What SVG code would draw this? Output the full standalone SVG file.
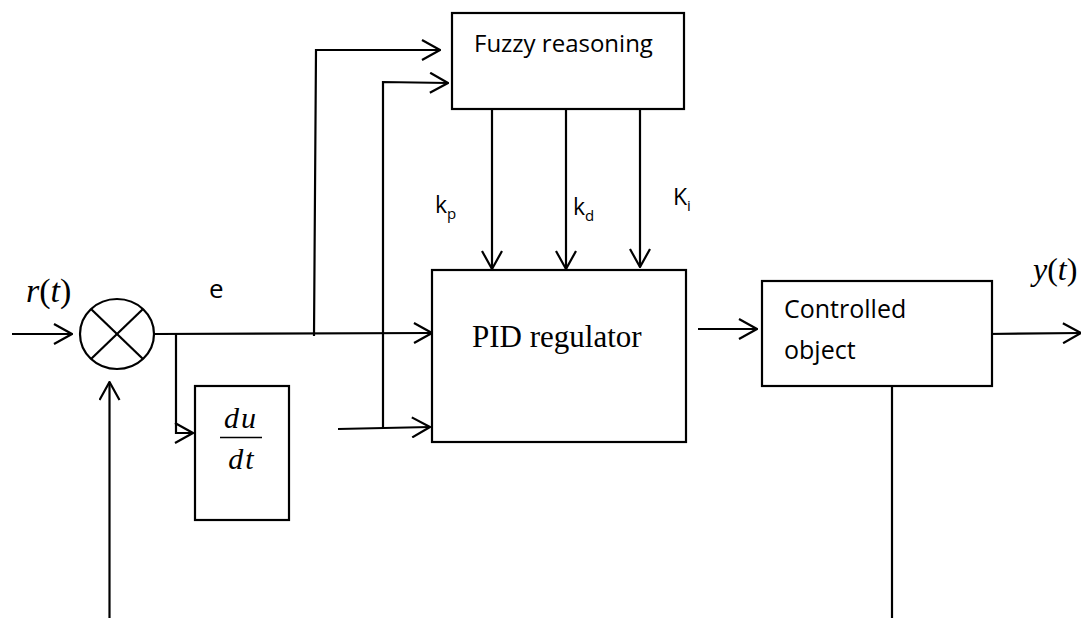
<svg xmlns="http://www.w3.org/2000/svg" width="1081" height="618" viewBox="0 0 1081 618">
<style>
.ln{stroke:#000;stroke-width:2.2;fill:none}
.bx{stroke:#000;stroke-width:2.2;fill:#fff}
.sans{font-family:"Open Sans","Liberation Sans",Arial,sans-serif;fill:#000}
.serif{font-family:"Liberation Serif","Times New Roman",serif;fill:#000}
.it{font-style:italic}
</style>
<defs>
<marker id="ah" viewBox="0 0 20 22" refX="19" refY="11" markerWidth="20" markerHeight="22" markerUnits="userSpaceOnUse" orient="auto">
<polyline points="1,1 19,11 1,21" fill="none" stroke="#000" stroke-width="2.2"/>
</marker>
</defs>
<rect width="1081" height="618" fill="#fff"/>
<g id="connectors">
<line class="ln" x1="12" y1="334" x2="72" y2="334" marker-end="url(#ah)"/>
<line class="ln" x1="155" y1="334" x2="432" y2="333" marker-end="url(#ah)"/>
<polyline class="ln" points="176,334 176,433 193,433" marker-end="url(#ah)"/>
<line class="ln" x1="338" y1="429" x2="430" y2="427" marker-end="url(#ah)"/>
<polyline class="ln" points="383,428 383,82 448,83" marker-end="url(#ah)"/>
<polyline class="ln" points="314,336 316,50 440,50" marker-end="url(#ah)"/>
<line class="ln" x1="492" y1="109" x2="492" y2="269" marker-end="url(#ah)"/>
<line class="ln" x1="566" y1="109" x2="566" y2="269" marker-end="url(#ah)"/>
<line class="ln" x1="640" y1="109" x2="640" y2="267" marker-end="url(#ah)"/>
<line class="ln" x1="698" y1="329" x2="757" y2="329" marker-end="url(#ah)"/>
<line class="ln" x1="987" y1="334" x2="1081" y2="333" marker-end="url(#ah)"/>
<line class="ln" x1="892" y1="386" x2="892" y2="618"/>
<line class="ln" x1="109.5" y1="618" x2="109.5" y2="382" marker-end="url(#ah)"/>
</g>
<g id="sum">
<ellipse class="bx" cx="117" cy="334" rx="37" ry="35"/>
<line class="ln" x1="91" y1="309" x2="143" y2="359"/>
<line class="ln" x1="143" y1="309" x2="91" y2="359"/>
</g>
<g id="fuzzy">
<rect class="bx" x="452" y="13" width="232" height="96"/>
<text class="sans" x="474" y="52" font-size="24">Fuzzy reasoning</text>
</g>
<g id="pid">
<rect class="bx" x="432" y="270" width="254" height="172"/>
<text class="serif" x="472" y="347" font-size="31">PID regulator</text>
</g>
<g id="deriv">
<rect class="bx" x="195" y="386" width="94" height="134"/>
<text class="serif it" x="241" y="428" font-size="30" text-anchor="middle" letter-spacing="2">du</text>
<line x1="220" y1="437.5" x2="262" y2="437.5" stroke="#000" stroke-width="1.5"/>
<text class="serif it" x="242" y="469" font-size="30" text-anchor="middle" letter-spacing="2">dt</text>
</g>
<g id="plant">
<rect class="bx" x="762" y="281" width="230" height="105"/>
<text class="sans" x="784" y="318" font-size="25">Controlled</text>
<text class="sans" x="784" y="359" font-size="25">object</text>
</g>
<g id="labels">
<text class="serif" x="26" y="302" font-size="34"><tspan class="it">r</tspan>(<tspan class="it">t</tspan>)</text>
<text class="sans" x="209" y="298" font-size="26">e</text>
<text class="sans" x="435" y="213" font-size="23">k<tspan font-size="15" dy="6">p</tspan></text>
<text class="sans" x="573" y="215" font-size="23">k<tspan font-size="15" dy="6">d</tspan></text>
<text class="sans" x="673" y="205" font-size="23">K<tspan font-size="15" dy="6">i</tspan></text>
<text class="serif" x="1033" y="280" font-size="32"><tspan class="it">y</tspan>(<tspan class="it">t</tspan>)</text>
</g>
</svg>
